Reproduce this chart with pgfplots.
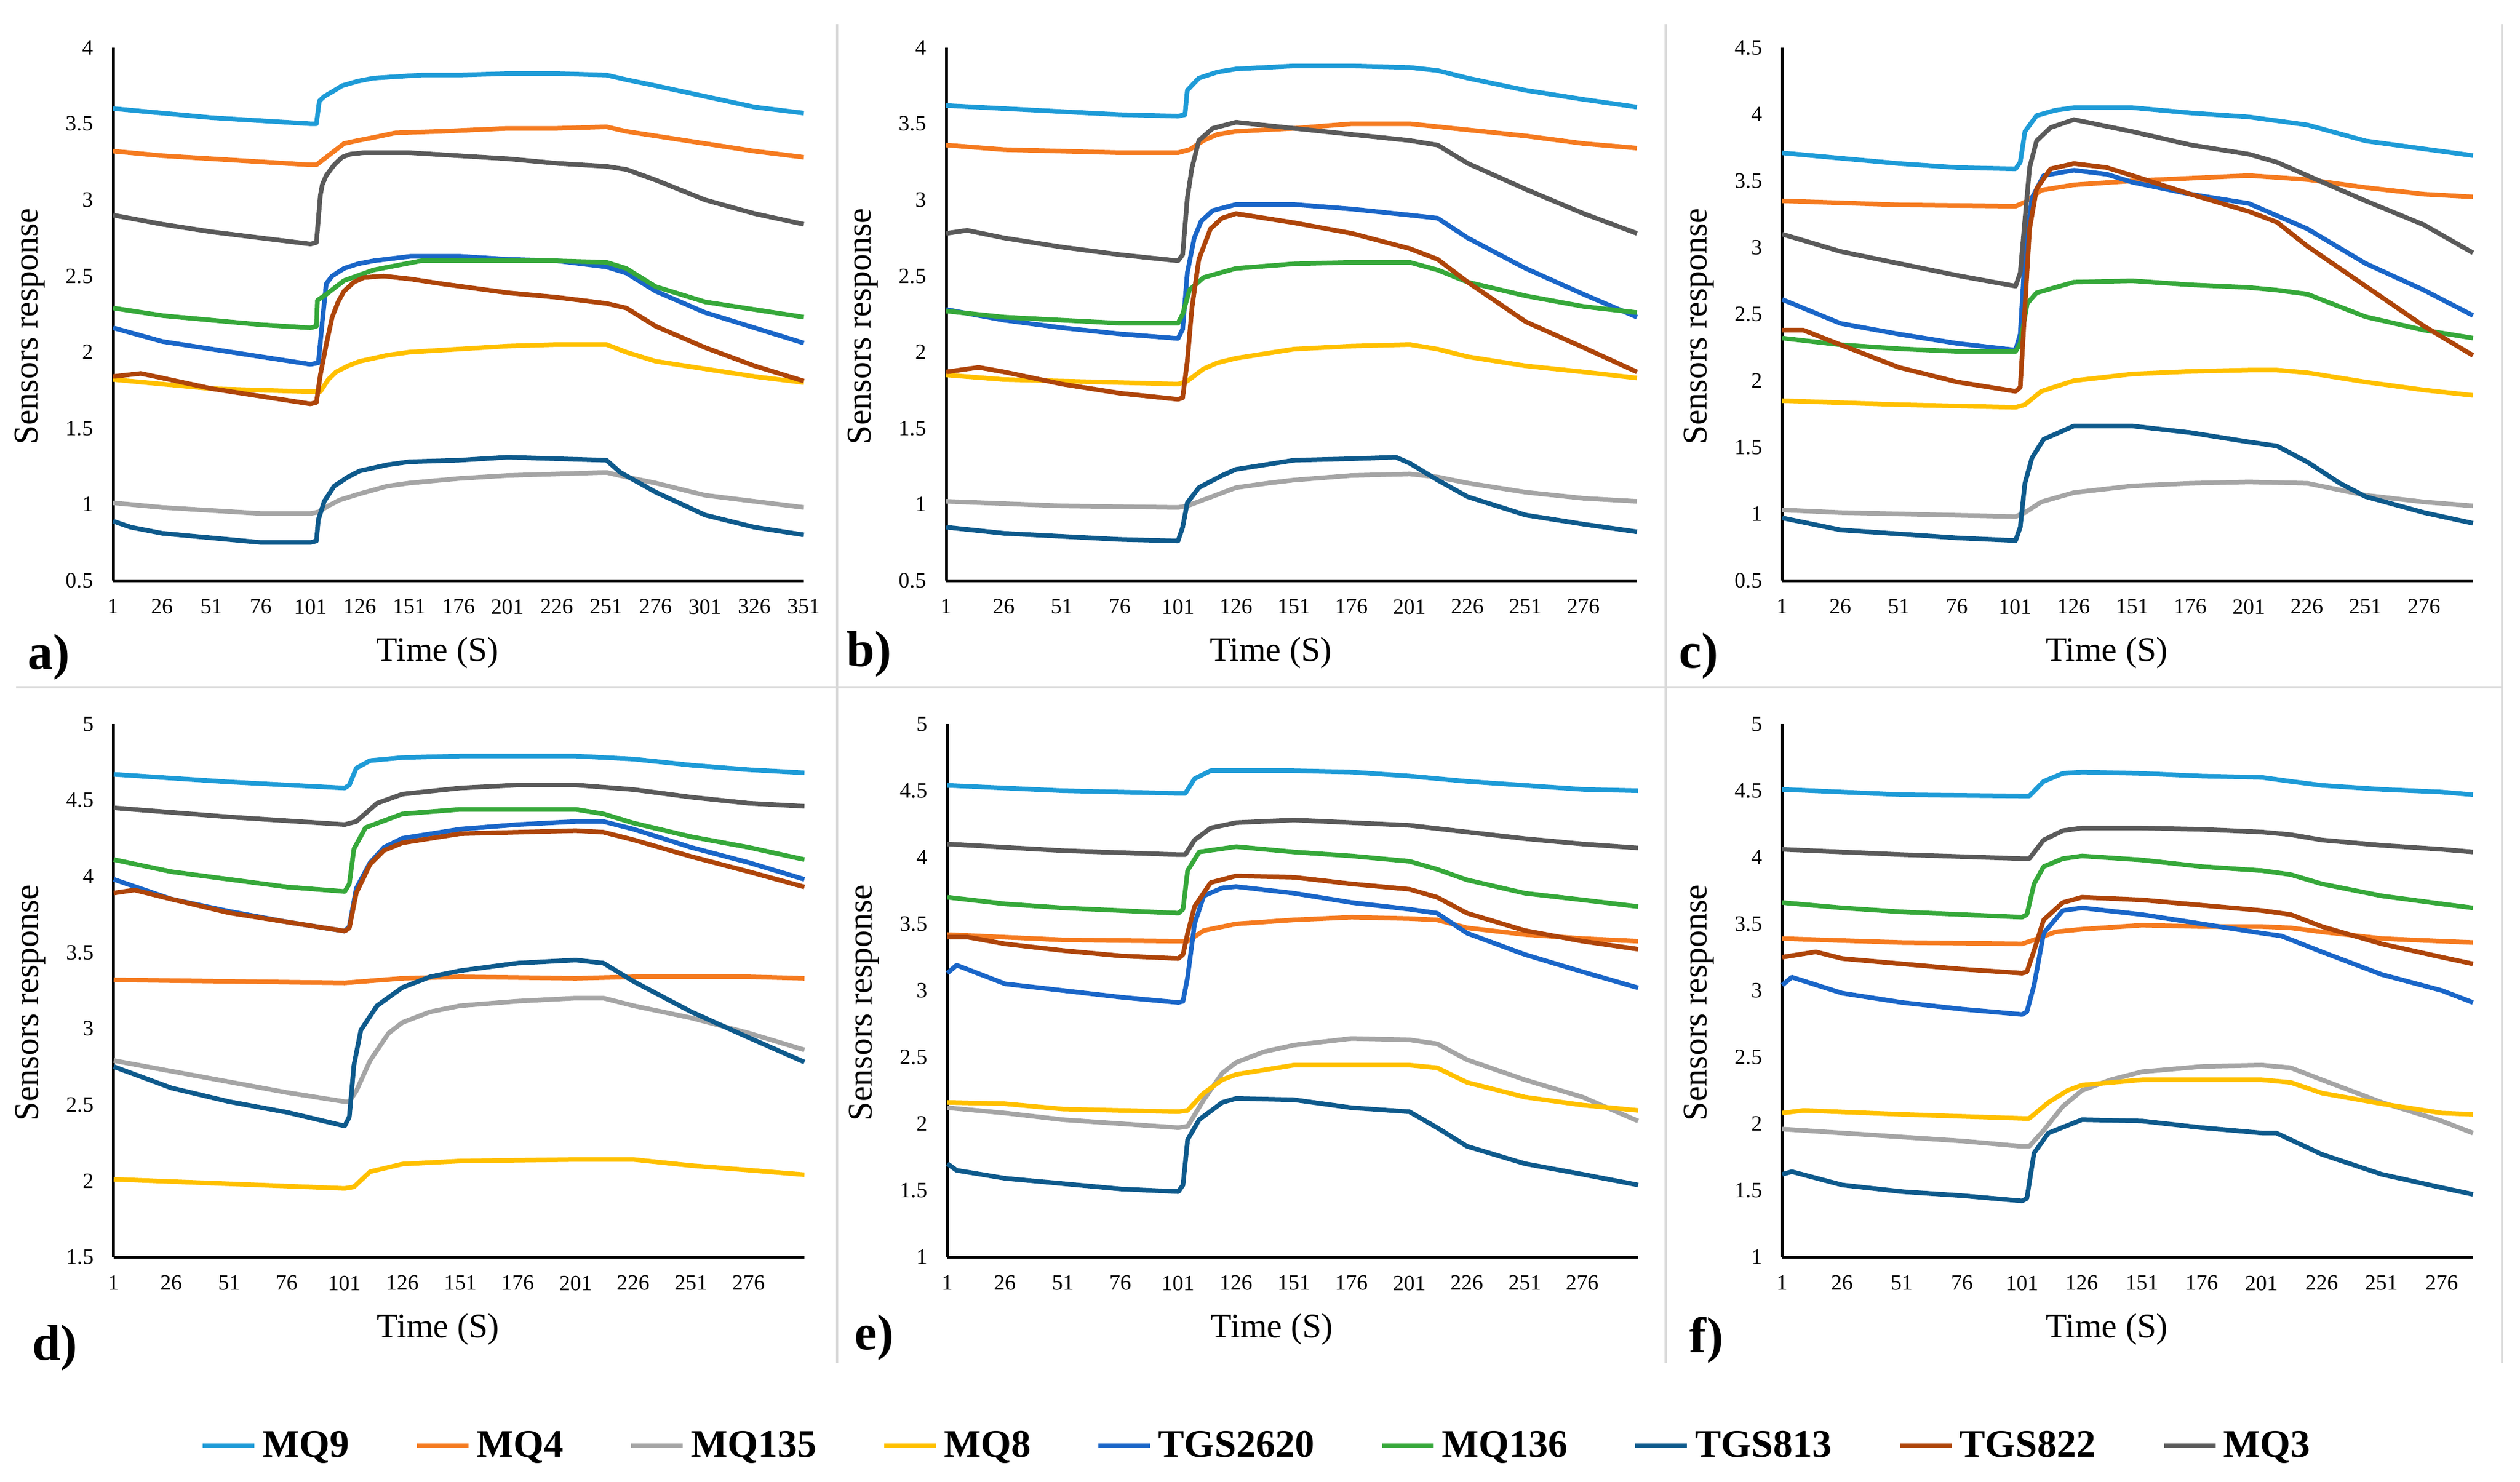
\documentclass[border=0pt]{standalone}
\usepackage{fontspec}
\setmainfont{Liberation Serif}
\usepackage{pgfplots}
\pgfplotsset{compat=1.18}

\definecolor{cMQnine}{RGB}{30,155,215}
\definecolor{cMQfour}{RGB}{245,123,32}
\definecolor{cMQ135}{RGB}{165,165,165}
\definecolor{cMQeight}{RGB}{255,192,0}
\definecolor{cTGS2620}{RGB}{26,102,200}
\definecolor{cMQ136}{RGB}{54,168,58}
\definecolor{cTGS813}{RGB}{14,90,140}
\definecolor{cTGS822}{RGB}{174,69,10}
\definecolor{cMQthree}{RGB}{90,90,90}
\definecolor{sepgray}{RGB}{217,217,217}

% 1 px of the reference = 0.25pt
\pgfplotsset{
  panel/.style={
    scale only axis, width=300.75pt, height=232pt,
    axis lines=left, axis line style={-, line width=1.25pt, black},
    major tick length=0pt, enlargelimits=false, clip=false,
    xmin=1,
    tick label style={font=\fontsize{9.5}{11}\selectfont, inner sep=0pt},
    yticklabel style={xshift=-8.5pt},
    xticklabel style={yshift=-8pt},
    /pgf/number format/assume math mode=true,
    label style={font=\fontsize{15}{18}\selectfont},
    xlabel={Time (S)}, ylabel={Sensors response},
    xlabel style={at={(axis description cs:0.47,-0.136)}, anchor=center},
    ylabel style={at={(axis description cs:-0.1205,0.477)}, anchor=center, rotate=0},
    every axis plot/.append style={line width=2pt, no markers, line join=round},
  },
  s1/.style={cMQnine}, s2/.style={cMQfour}, s3/.style={cMQ135},
  s4/.style={cMQeight}, s5/.style={cTGS2620}, s6/.style={cMQ136},
  s7/.style={cTGS813}, s8/.style={cTGS822}, s9/.style={cMQthree},
}

\begin{document}
\begin{tikzpicture}
\path[use as bounding box] (0,0) rectangle (1097.25pt,-645pt);

% separators
\draw[sepgray, line width=1pt] (7pt,-299.25pt) -- (1090pt,-299.25pt);
\draw[sepgray, line width=1pt] (364.5pt,-10.5pt) -- (364.5pt,-593.5pt);
\draw[sepgray, line width=1pt] (725.25pt,-10.5pt) -- (725.25pt,-593.5pt);
\draw[sepgray, line width=1pt] (1089.5pt,-10.5pt) -- (1089.5pt,-593.5pt);

% a)
\begin{axis}[panel, at={(49.25pt,-252.75pt)}, xmax=351, ymin=0.5, ymax=4,
  xtick={1,26,...,351}, ytick={0.5,1,...,4}]
\addplot[s1] coordinates {(1,3.60)(26,3.57)(51,3.54)(76,3.52)(101,3.50)(104,3.50)(105.5,3.65)(108,3.68)(112,3.71)(117,3.75)(125,3.78)(133,3.80)(157,3.82)(176,3.82)(201,3.83)(226,3.83)(251,3.82)(261,3.79)(276,3.75)(301,3.68)(326,3.61)(351,3.57)};
\addplot[s2] coordinates {(1,3.32)(26,3.29)(51,3.27)(76,3.25)(101,3.23)(104,3.23)(109,3.28)(113,3.32)(118,3.37)(125,3.39)(133,3.41)(144,3.44)(167,3.45)(201,3.47)(226,3.47)(251,3.48)(261,3.45)(276,3.42)(301,3.37)(326,3.32)(351,3.28)};
\addplot[s3] coordinates {(1,1.01)(26,0.98)(51,0.96)(76,0.94)(101,0.94)(105,0.95)(110,0.99)(116,1.03)(126,1.07)(140,1.12)(151,1.14)(176,1.17)(201,1.19)(226,1.20)(251,1.21)(261,1.18)(276,1.14)(301,1.06)(326,1.02)(351,0.98)};
\addplot[s4] coordinates {(1,1.82)(26,1.79)(51,1.76)(76,1.75)(101,1.74)(106,1.74)(110,1.82)(114,1.87)(120,1.91)(126,1.94)(140,1.98)(151,2.00)(176,2.02)(201,2.04)(226,2.05)(251,2.05)(261,2.00)(276,1.94)(301,1.89)(326,1.84)(351,1.80)};
\addplot[s5] coordinates {(1,2.16)(26,2.07)(51,2.02)(76,1.97)(101,1.92)(105,1.93)(107,2.20)(109,2.45)(112,2.50)(118,2.55)(125,2.58)(133,2.60)(152,2.63)(176,2.63)(201,2.61)(226,2.60)(251,2.56)(261,2.52)(276,2.40)(301,2.26)(326,2.16)(351,2.06)};
\addplot[s6] coordinates {(1,2.29)(26,2.24)(51,2.21)(76,2.18)(101,2.16)(104,2.17)(104.5,2.34)(109,2.38)(118,2.47)(133,2.54)(157,2.60)(176,2.60)(201,2.60)(226,2.60)(251,2.59)(261,2.55)(276,2.43)(301,2.33)(326,2.28)(351,2.23)};
\addplot[s7] coordinates {(1,0.89)(10,0.85)(26,0.81)(51,0.78)(76,0.75)(101,0.75)(104,0.76)(105,0.90)(108,1.02)(113,1.12)(120,1.18)(126,1.22)(140,1.26)(151,1.28)(176,1.29)(201,1.31)(226,1.30)(251,1.29)(258,1.21)(276,1.08)(301,0.93)(326,0.85)(351,0.80)};
\addplot[s8] coordinates {(1,1.84)(15,1.86)(26,1.83)(51,1.76)(76,1.71)(101,1.66)(104,1.67)(106,1.85)(109,2.05)(112,2.23)(115,2.33)(118,2.40)(123,2.46)(128,2.49)(138,2.50)(152,2.48)(167,2.45)(201,2.39)(226,2.36)(251,2.32)(261,2.29)(276,2.17)(301,2.03)(326,1.91)(351,1.81)};
\addplot[s9] coordinates {(1,2.90)(26,2.84)(51,2.79)(76,2.75)(101,2.71)(104,2.72)(106,3.03)(107,3.10)(109,3.16)(113,3.23)(117,3.28)(121,3.30)(128,3.31)(151,3.31)(176,3.29)(201,3.27)(226,3.24)(251,3.22)(261,3.20)(276,3.13)(301,3.00)(326,2.91)(351,2.84)};
\end{axis}

% b)
\begin{axis}[panel, at={(412pt,-252.75pt)}, xmax=299, ymin=0.5, ymax=4,
  xtick={1,26,...,276}, ytick={0.5,1,...,4}]
\addplot[s1] coordinates {(1,3.62)(26,3.60)(51,3.58)(76,3.56)(101,3.55)(104,3.56)(105,3.72)(110,3.80)(118,3.84)(126,3.86)(151,3.88)(176,3.88)(201,3.87)(213,3.85)(226,3.80)(251,3.72)(276,3.66)(299,3.61)};
\addplot[s2] coordinates {(1,3.36)(26,3.33)(51,3.32)(76,3.31)(101,3.31)(106,3.33)(112,3.39)(118,3.43)(126,3.45)(151,3.47)(176,3.50)(201,3.50)(226,3.46)(251,3.42)(276,3.37)(299,3.34)};
\addplot[s3] coordinates {(1,1.02)(51,0.99)(101,0.98)(105,0.99)(112,1.03)(126,1.11)(140,1.14)(151,1.16)(176,1.19)(201,1.20)(213,1.18)(226,1.14)(251,1.08)(276,1.04)(299,1.02)};
\addplot[s4] coordinates {(1,1.85)(26,1.82)(51,1.81)(76,1.80)(101,1.79)(105,1.81)(112,1.89)(118,1.93)(126,1.96)(151,2.02)(176,2.04)(201,2.05)(213,2.02)(226,1.97)(251,1.91)(276,1.87)(299,1.83)};
\addplot[s5] coordinates {(1,2.28)(26,2.21)(51,2.16)(76,2.12)(101,2.09)(103,2.15)(105,2.52)(108,2.75)(111,2.86)(116,2.93)(126,2.97)(151,2.97)(176,2.94)(201,2.90)(213,2.88)(226,2.75)(251,2.55)(276,2.38)(299,2.23)};
\addplot[s6] coordinates {(1,2.27)(26,2.23)(51,2.21)(76,2.19)(101,2.19)(103,2.25)(106,2.41)(112,2.49)(126,2.55)(151,2.58)(176,2.59)(201,2.59)(213,2.54)(226,2.46)(251,2.37)(276,2.30)(299,2.26)};
\addplot[s7] coordinates {(1,0.85)(26,0.81)(51,0.79)(76,0.77)(101,0.76)(103,0.85)(105,1.01)(110,1.11)(120,1.19)(126,1.23)(151,1.29)(176,1.30)(195,1.31)(201,1.27)(213,1.16)(226,1.05)(251,0.93)(276,0.87)(299,0.82)};
\addplot[s8] coordinates {(1,1.87)(15,1.90)(26,1.87)(51,1.79)(76,1.73)(101,1.69)(103,1.70)(105,1.94)(107,2.29)(110,2.61)(115,2.81)(120,2.88)(126,2.91)(151,2.85)(176,2.78)(201,2.68)(213,2.61)(226,2.46)(251,2.20)(276,2.03)(299,1.87)};
\addplot[s9] coordinates {(1,2.78)(10,2.80)(26,2.75)(51,2.69)(76,2.64)(101,2.60)(103,2.64)(105,3.01)(107,3.21)(110,3.39)(116,3.47)(126,3.51)(151,3.47)(176,3.43)(201,3.39)(213,3.36)(226,3.24)(251,3.07)(276,2.91)(299,2.78)};
\end{axis}

% c)
\begin{axis}[panel, at={(776pt,-252.75pt)}, xmax=297, ymin=0.5, ymax=4.5,
  xtick={1,26,...,276}, ytick={0.5,1,...,4.5}]
\addplot[s1] coordinates {(1,3.71)(26,3.67)(51,3.63)(76,3.60)(101,3.59)(103,3.64)(105,3.87)(110,3.99)(118,4.03)(126,4.05)(151,4.05)(176,4.01)(201,3.98)(226,3.92)(251,3.80)(276,3.74)(297,3.69)};
\addplot[s2] coordinates {(1,3.35)(51,3.32)(101,3.31)(105,3.34)(112,3.43)(126,3.47)(151,3.50)(176,3.52)(201,3.54)(226,3.51)(251,3.45)(276,3.40)(297,3.38)};
\addplot[s3] coordinates {(1,1.03)(26,1.01)(51,1.00)(101,0.98)(105,1.01)(112,1.09)(126,1.16)(151,1.21)(176,1.23)(201,1.24)(226,1.23)(251,1.14)(276,1.09)(297,1.06)};
\addplot[s4] coordinates {(1,1.85)(51,1.82)(101,1.80)(105,1.82)(112,1.92)(126,2.00)(151,2.05)(176,2.07)(201,2.08)(213,2.08)(226,2.06)(251,1.99)(276,1.93)(297,1.89)};
\addplot[s5] coordinates {(1,2.61)(26,2.43)(51,2.35)(76,2.28)(101,2.23)(103,2.35)(105,2.94)(108,3.37)(113,3.54)(126,3.58)(140,3.55)(151,3.49)(176,3.40)(201,3.33)(226,3.14)(251,2.88)(276,2.68)(297,2.49)};
\addplot[s6] coordinates {(1,2.32)(26,2.27)(51,2.24)(76,2.22)(101,2.22)(103,2.28)(106,2.58)(110,2.66)(126,2.74)(151,2.75)(176,2.72)(201,2.70)(213,2.68)(226,2.65)(251,2.48)(276,2.38)(297,2.32)};
\addplot[s7] coordinates {(1,0.97)(26,0.88)(51,0.85)(76,0.82)(101,0.80)(103,0.90)(105,1.23)(108,1.42)(113,1.56)(126,1.66)(151,1.66)(176,1.61)(201,1.54)(213,1.51)(226,1.39)(240,1.23)(251,1.13)(276,1.01)(297,0.93)};
\addplot[s8] coordinates {(1,2.38)(10,2.38)(26,2.27)(51,2.10)(76,1.99)(101,1.92)(103,1.95)(105,2.55)(107,3.14)(110,3.44)(116,3.59)(126,3.63)(140,3.60)(151,3.54)(176,3.40)(201,3.27)(213,3.19)(226,3.01)(251,2.71)(276,2.41)(297,2.19)};
\addplot[s9] coordinates {(1,3.10)(26,2.97)(51,2.88)(76,2.79)(101,2.71)(103,2.81)(105,3.21)(107,3.60)(110,3.80)(116,3.90)(126,3.96)(151,3.87)(176,3.77)(201,3.70)(213,3.64)(226,3.54)(251,3.35)(276,3.17)(297,2.96)};
\end{axis}

% d)
\begin{axis}[panel, at={(49.5pt,-547.25pt)}, xmax=300, ymin=1.5, ymax=5,
  xtick={1,26,...,276}, ytick={1.5,2,...,5}]
\addplot[s1] coordinates {(1,4.67)(51,4.62)(101,4.58)(103,4.60)(106,4.71)(112,4.76)(126,4.78)(151,4.79)(201,4.79)(226,4.77)(251,4.73)(276,4.70)(300,4.68)};
\addplot[s2] coordinates {(1,3.32)(51,3.31)(101,3.30)(126,3.33)(151,3.34)(201,3.33)(226,3.34)(276,3.34)(300,3.33)};
\addplot[s3] coordinates {(1,2.79)(26,2.72)(51,2.65)(76,2.58)(101,2.52)(103,2.52)(106,2.59)(112,2.79)(120,2.97)(126,3.04)(138,3.11)(151,3.15)(176,3.18)(201,3.20)(213,3.20)(226,3.15)(251,3.07)(276,2.97)(300,2.86)};
\addplot[s4] coordinates {(1,2.01)(51,1.98)(101,1.95)(105,1.96)(112,2.06)(126,2.11)(151,2.13)(201,2.14)(226,2.14)(251,2.10)(276,2.07)(300,2.04)};
\addplot[s5] coordinates {(1,3.98)(26,3.85)(51,3.77)(76,3.70)(101,3.64)(103,3.67)(106,3.92)(112,4.09)(118,4.19)(126,4.25)(151,4.31)(176,4.34)(201,4.36)(213,4.36)(226,4.31)(251,4.19)(276,4.09)(300,3.98)};
\addplot[s6] coordinates {(1,4.11)(26,4.03)(51,3.98)(76,3.93)(101,3.90)(103,3.95)(105,4.18)(110,4.32)(126,4.41)(151,4.44)(176,4.44)(201,4.44)(213,4.41)(226,4.35)(251,4.26)(276,4.19)(300,4.11)};
\addplot[s7] coordinates {(1,2.75)(26,2.61)(51,2.52)(76,2.45)(101,2.36)(103,2.42)(105,2.76)(108,2.99)(115,3.15)(126,3.27)(138,3.34)(151,3.38)(176,3.43)(201,3.45)(213,3.43)(226,3.31)(251,3.11)(276,2.94)(300,2.78)};
\addplot[s8] coordinates {(1,3.89)(10,3.91)(26,3.85)(51,3.76)(76,3.70)(101,3.64)(103,3.66)(106,3.89)(112,4.08)(118,4.17)(126,4.22)(151,4.28)(176,4.29)(201,4.30)(213,4.29)(226,4.24)(251,4.13)(276,4.03)(300,3.93)};
\addplot[s9] coordinates {(1,4.45)(51,4.39)(101,4.34)(106,4.36)(115,4.48)(126,4.54)(151,4.58)(176,4.60)(201,4.60)(226,4.57)(251,4.52)(276,4.48)(300,4.46)};
\end{axis}

% e) carries the legend
\begin{axis}[panel, at={(412.5pt,-547.25pt)}, xmax=300, ymin=1, ymax=5,
  xtick={1,26,...,276}, ytick={1,1.5,...,5},
  legend columns=9,
  legend image code/.code={\draw[#1, line width=2pt] (0pt,0pt) -- (22.5pt,0pt);},
  legend style={at={(axis description cs:0.450,-0.3545)}, anchor=center,
    draw=none, fill=none, font=\fontsize{17}{20}\selectfont\bfseries,
    nodes={inner sep=2.5pt},
    /tikz/every even column/.append style={column sep=26pt}}]
\addplot[s1] coordinates {(1,4.54)(51,4.50)(101,4.48)(104,4.48)(108,4.59)(115,4.65)(126,4.65)(151,4.65)(176,4.64)(201,4.61)(226,4.57)(251,4.54)(276,4.51)(300,4.50)};
\addlegendentry{MQ9}
\addplot[s2] coordinates {(1,3.42)(51,3.38)(101,3.37)(105,3.37)(112,3.45)(126,3.50)(151,3.53)(176,3.55)(201,3.54)(213,3.53)(226,3.47)(251,3.42)(276,3.39)(300,3.37)};
\addlegendentry{MQ4}
\addplot[s3] coordinates {(1,2.12)(26,2.08)(51,2.03)(76,2.00)(101,1.97)(105,1.98)(112,2.18)(120,2.38)(126,2.46)(138,2.54)(151,2.59)(176,2.64)(201,2.63)(213,2.60)(226,2.48)(251,2.33)(276,2.20)(300,2.02)};
\addlegendentry{MQ135}
\addplot[s4] coordinates {(1,2.16)(26,2.15)(51,2.11)(76,2.10)(101,2.09)(105,2.10)(112,2.23)(120,2.33)(126,2.37)(151,2.44)(176,2.44)(201,2.44)(213,2.42)(226,2.31)(251,2.20)(276,2.14)(300,2.10)};
\addlegendentry{MQ8}
\addplot[s5] coordinates {(1,3.13)(5,3.19)(26,3.05)(51,3.00)(76,2.95)(101,2.91)(103,2.92)(105,3.10)(108,3.50)(112,3.71)(120,3.77)(126,3.78)(151,3.73)(176,3.66)(201,3.61)(213,3.58)(226,3.43)(251,3.27)(276,3.14)(300,3.02)};
\addlegendentry{TGS2620}
\addplot[s6] coordinates {(1,3.70)(26,3.65)(51,3.62)(76,3.60)(101,3.58)(103,3.61)(105,3.90)(110,4.04)(126,4.08)(151,4.04)(176,4.01)(201,3.97)(213,3.91)(226,3.83)(251,3.73)(276,3.68)(300,3.63)};
\addlegendentry{MQ136}
\addplot[s7] coordinates {(1,1.70)(5,1.65)(26,1.59)(51,1.55)(76,1.51)(101,1.49)(103,1.54)(105,1.88)(110,2.03)(120,2.16)(126,2.19)(151,2.18)(176,2.12)(201,2.09)(213,1.97)(226,1.83)(251,1.70)(276,1.62)(300,1.54)};
\addlegendentry{TGS813}
\addplot[s8] coordinates {(1,3.40)(10,3.40)(26,3.35)(51,3.30)(76,3.26)(101,3.24)(103,3.27)(105,3.43)(108,3.63)(115,3.81)(126,3.86)(151,3.85)(176,3.80)(201,3.76)(213,3.70)(226,3.58)(251,3.45)(276,3.37)(300,3.31)};
\addlegendentry{TGS822}
\addplot[s9] coordinates {(1,4.10)(51,4.05)(101,4.02)(104,4.02)(108,4.13)(115,4.22)(126,4.26)(151,4.28)(176,4.26)(201,4.24)(226,4.19)(251,4.14)(276,4.10)(300,4.07)};
\addlegendentry{MQ3}
\end{axis}

% f)
\begin{axis}[panel, at={(776pt,-547.25pt)}, xmax=289, ymin=1, ymax=5,
  xtick={1,26,...,276}, ytick={1,1.5,...,5}]
\addplot[s1] coordinates {(1,4.51)(51,4.47)(101,4.46)(104,4.46)(110,4.57)(118,4.63)(126,4.64)(151,4.63)(176,4.61)(201,4.60)(213,4.57)(226,4.54)(251,4.51)(276,4.49)(289,4.47)};
\addplot[s2] coordinates {(1,3.39)(51,3.36)(101,3.35)(106,3.38)(115,3.44)(126,3.46)(151,3.49)(176,3.48)(201,3.48)(213,3.47)(226,3.44)(251,3.39)(276,3.37)(289,3.36)};
\addplot[s3] coordinates {(1,1.96)(26,1.93)(51,1.90)(76,1.87)(101,1.83)(104,1.83)(110,1.95)(118,2.13)(126,2.25)(138,2.33)(151,2.39)(176,2.43)(201,2.44)(213,2.42)(226,2.33)(251,2.16)(276,2.02)(289,1.93)};
\addplot[s4] coordinates {(1,2.08)(10,2.10)(51,2.07)(101,2.04)(104,2.04)(112,2.16)(120,2.25)(126,2.29)(151,2.33)(176,2.33)(201,2.33)(213,2.31)(226,2.23)(251,2.15)(276,2.08)(289,2.07)};
\addplot[s5] coordinates {(1,3.04)(5,3.10)(26,2.98)(51,2.91)(76,2.86)(101,2.82)(103,2.84)(106,3.04)(110,3.43)(118,3.60)(126,3.62)(151,3.57)(176,3.50)(201,3.43)(209,3.41)(226,3.29)(251,3.12)(276,3.00)(289,2.91)};
\addplot[s6] coordinates {(1,3.66)(26,3.62)(51,3.59)(76,3.57)(101,3.55)(103,3.57)(106,3.80)(110,3.93)(118,3.99)(126,4.01)(151,3.98)(176,3.93)(201,3.90)(213,3.87)(226,3.80)(251,3.71)(276,3.65)(289,3.62)};
\addplot[s7] coordinates {(1,1.62)(5,1.64)(26,1.54)(51,1.49)(76,1.46)(101,1.42)(103,1.44)(106,1.78)(112,1.93)(126,2.03)(151,2.02)(176,1.97)(201,1.93)(207,1.93)(226,1.77)(251,1.62)(276,1.52)(289,1.47)};
\addplot[s8] coordinates {(1,3.25)(15,3.29)(26,3.24)(51,3.20)(76,3.16)(101,3.13)(103,3.14)(106,3.30)(110,3.53)(118,3.66)(126,3.70)(151,3.68)(176,3.64)(201,3.60)(213,3.57)(226,3.48)(251,3.35)(276,3.25)(289,3.20)};
\addplot[s9] coordinates {(1,4.06)(51,4.02)(101,3.99)(104,3.99)(110,4.13)(118,4.20)(126,4.22)(151,4.22)(176,4.21)(201,4.19)(213,4.17)(226,4.13)(251,4.09)(276,4.06)(289,4.04)};
\end{axis}

% panel labels
\begin{scope}[every node/.style={anchor=base west, inner sep=0pt, font=\fontsize{22}{26}\selectfont\bfseries}]
\node at (12pt,-291.25pt) {a)};
\node at (368.5pt,-290pt) {b)};
\node at (731pt,-290.75pt) {c)};
\node at (14pt,-592pt) {d)};
\node at (372pt,-587.5pt) {e)};
\node at (735.5pt,-588.75pt) {f)};
\end{scope}
\end{tikzpicture}
\end{document}
